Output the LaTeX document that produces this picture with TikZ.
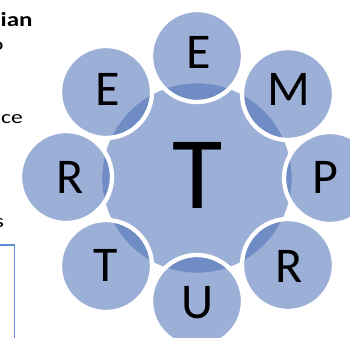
\documentclass[tikz,border=0pt]{standalone}
\usepackage{fontspec}
\setmainfont{Carlito}
\usepackage{graphicx}
\definecolor{lightb}{RGB}{155,175,215}
\definecolor{baseb}{RGB}{80,115,185}
\definecolor{rectb}{RGB}{95,140,215}
\begin{document}
\begin{tikzpicture}[x=1pt,y=-1pt,
  outer/.style={circle,minimum size=92pt,inner sep=0pt,fill=baseb,fill opacity=0.57,draw=white,line width=4.3pt},
  hub/.style={circle,minimum size=190pt,inner sep=0pt,fill=lightb,draw=white,line width=0.6pt},
  letter/.style={inner sep=0pt,text=black,font=\fontsize{50}{50}\selectfont},
  sidetext/.style={inner sep=0pt,text=black,font=\fontsize{18.5}{19}\selectfont}]
\useasboundingbox (0,0) rectangle (350,337);
\clip (0,0) rectangle (350,337);
% faint text-box edge seen through the circles
\draw[white,line width=0.6pt] (69.5,-5) -- (69.5,272) -- (-5,272);
% hub
\node[hub] (hub) at (197,178) {};
% outer circles
\node[outer] (c1) at (197,56) {};
\node[outer] (c2) at (288,94) {};
\node[outer] (c3) at (330,178) {};
\node[outer] (c4) at (288,265) {};
\node[outer] (c5) at (197,301) {};
\node[outer] (c6) at (106,266) {};
\node[outer] (c7) at (66,177) {};
\node[outer] (c8) at (106,92) {};
% letters
\node[inner sep=0pt,font=\fontsize{103}{103}\selectfont] (lt) at (197.5,175.5) {T};
\node[letter] (l1) at (198.5,52.5) {E};
\node[letter] (l2) at (288.5,89) {M};
\node[letter] (l3) at (325,177) {P};
\node[letter] (l4) at (289,266) {R};
\node[letter] (l5) at (197.5,302.5) {U};
\node[letter] (l6) at (106,265) {T};
\node[letter] (l7) at (70,177) {R};
\node[letter] (l8) at (107.5,89.5) {E};
% fragments of text on the left
\node[sidetext,anchor=base west,font=\fontsize{20}{20}\selectfont] (t1) at (0.5,27) {\scalebox{1.25}[1]{\bfseries ian}};
\node[sidetext,anchor=base east] (t2) at (3.8,50) {\scalebox{1.3}[1]{o}};
\node[sidetext,anchor=base west] (t3) at (1,123) {\scalebox{1.27}[1]{ce}};
\node[sidetext,anchor=base east] (t4) at (4.3,227) {\scalebox{1.3}[1]{s}};
% blue box edge
\draw[rectb,line width=1.3pt] (-5,245) -- (14.3,245) -- (14.3,345);
\end{tikzpicture}
\end{document}
